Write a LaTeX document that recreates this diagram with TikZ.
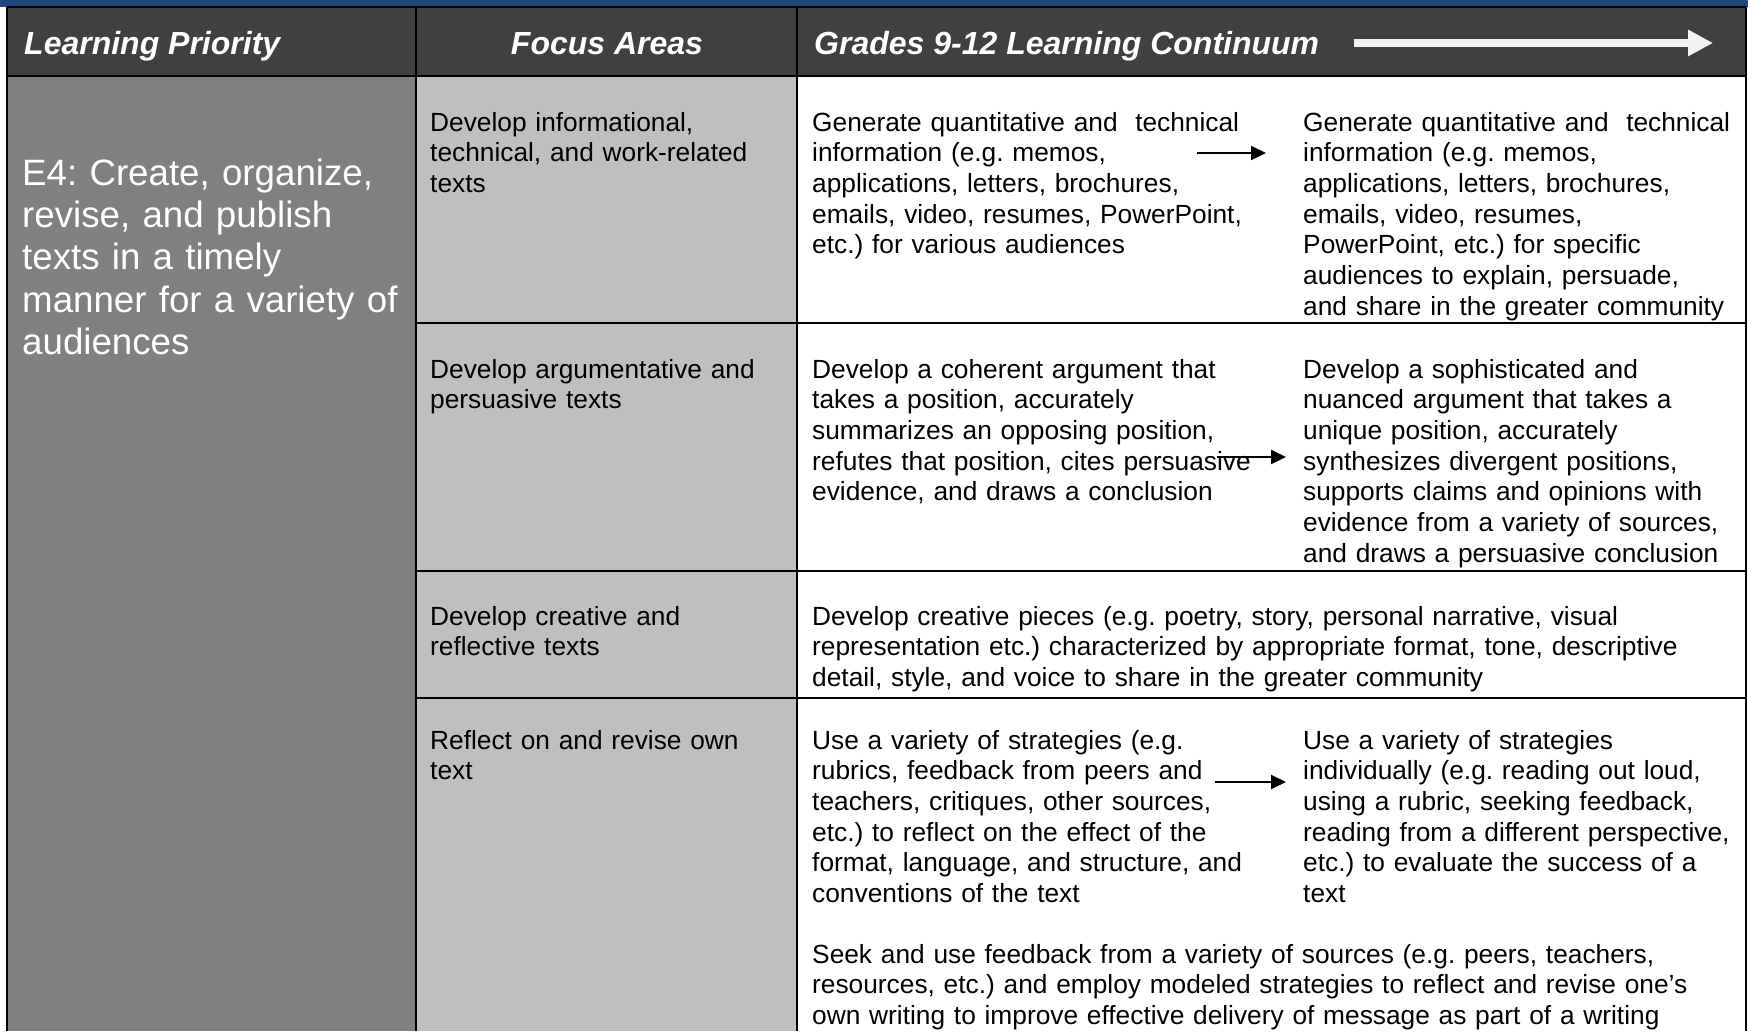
\documentclass[tikz,border=0pt]{standalone}
\usepackage{fontspec}
\setmainfont{Liberation Sans}
\usetikzlibrary{arrows.meta}
\frenchspacing
\definecolor{topblue}{HTML}{1F497D}
\definecolor{hdrgray}{HTML}{404040}
\definecolor{midgray}{HTML}{808080}
\definecolor{ltgray}{HTML}{BFBFBF}
\definecolor{arrowwhite}{HTML}{F2F2F2}
\begin{document}
\begin{tikzpicture}[x=1pt,y=-1pt,
  body/.style={anchor=base west, inner sep=0pt, align=left, text width=560pt,
    font=\fontsize{26.3}{30.7}\selectfont},
  hdr/.style={anchor=base west, inner sep=0pt, text=white,
    font=\fontsize{32}{36}\selectfont\bfseries\itshape},
  gridline/.style={line width=2pt, black},
  flow/.style={line width=2pt, black, -{Triangle[length=15pt,width=14pt]}}]
\useasboundingbox (0,0) rectangle (1748,1031);
\clip (0,0) rectangle (1748,1031);
% backgrounds
\fill[white] (0,0) rectangle (1748,1031);
\fill[topblue] (0,0) rectangle (1748,7);
\fill[hdrgray] (7,7) rectangle (1746,76);
\fill[midgray] (7,76) rectangle (416,1031);
\fill[ltgray] (416,76) rectangle (797,1031);
% grid
\draw[gridline] (7,7) -- (1746,7);
\draw[gridline] (7,7) -- (7,1031);
\draw[gridline] (1746,7) -- (1746,1031);
\draw[gridline] (416,7) -- (416,1031);
\draw[gridline] (797,7) -- (797,1031);
\draw[gridline] (7,76) -- (1746,76);
\draw[gridline] (416,323) -- (1746,323);
\draw[gridline] (416,571) -- (1746,571);
\draw[gridline] (416,698) -- (1746,698);
% header
\node[hdr] (lp) at (24,54) {Learning Priority};
\node[hdr, anchor=base] (fa) at (607,54) {Focus Areas};
\node[hdr] (gc) at (814,54) {Grades 9-12 Learning Continuum};
\coordinate (ha) at (1354,43);
\coordinate (hb) at (1713,43);
\draw[line width=7.5pt, arrowwhite, -{Triangle[length=25pt,width=25pt]}] (ha) -- (hb);
% learning priority
\node[anchor=base west, inner sep=0pt, align=left, text width=390pt, text=white,
  font=\fontsize{36.7}{42.4}\selectfont] (e4) at (22,185)
  {E4: Create, organize,\\revise, and publish\\texts in a timely\\manner for a variety of\\audiences};
% focus areas
\node[body] (f1) at (430,131) {Develop informational,\\technical, and work-related\\texts};
\node[body] (f2) at (430,378) {Develop argumentative and\\persuasive texts};
\node[body] (f3) at (430,625) {Develop creative and\\reflective texts};
\node[body] (f4) at (430,749) {Reflect on and revise own\\text};
% continuum row 1
\node[body] (c1a) at (812,131) {Generate quantitative and\ \ technical\\information (e.g. memos,\\applications, letters, brochures,\\emails, video, resumes, PowerPoint,\\etc.) for various audiences};
\node[body] (c1b) at (1303,131) {Generate quantitative and\ \ technical\\information (e.g. memos,\\applications, letters, brochures,\\emails, video, resumes,\\PowerPoint, etc.) for specific\\audiences to explain, persuade,\\and share in the greater community};
% row 2
\node[body] (c2a) at (812,378) {Develop a coherent argument that\\takes a position, accurately\\summarizes an opposing position,\\refutes that position, cites persuasive\\evidence, and draws a conclusion};
\node[body] (c2b) at (1303,378) {Develop a sophisticated and\\nuanced argument that takes a\\unique position, accurately\\synthesizes divergent positions,\\supports claims and opinions with\\evidence from a variety of sources,\\and draws a persuasive conclusion};
% row 3
\node[body, text width=900pt] (c3) at (812,625) {Develop creative pieces (e.g. poetry, story, personal narrative, visual\\representation etc.) characterized by appropriate format, tone, descriptive\\detail, style, and voice to share in the greater community};
% row 4
\node[body] (c4a) at (812,749) {Use a variety of strategies (e.g.\\rubrics, feedback from peers and\\teachers, critiques, other sources,\\etc.) to reflect on the effect of the\\format, language, and structure, and\\conventions of the text};
\node[body] (c4b) at (1303,749) {Use a variety of strategies\\individually (e.g. reading out loud,\\using a rubric, seeking feedback,\\reading from a different perspective,\\etc.) to evaluate the success of a\\text};
\node[body, text width=900pt] (c4c) at (812,963) {Seek and use feedback from a variety of sources (e.g. peers, teachers,\\resources, etc.) and employ modeled strategies to reflect and revise one’s\\own writing to improve effective delivery of message as part of a writing};
% progression arrows
\coordinate (a1s) at (1197,153);
\coordinate (a1e) at (1266,153);
\coordinate (a2s) at (1217,457);
\coordinate (a2e) at (1286,457);
\coordinate (a4s) at (1215,782);
\coordinate (a4e) at (1286,782);
\draw[flow] (a1s) -- (a1e);
\draw[flow] (a2s) -- (a2e);
\draw[flow] (a4s) -- (a4e);
\end{tikzpicture}
\end{document}
